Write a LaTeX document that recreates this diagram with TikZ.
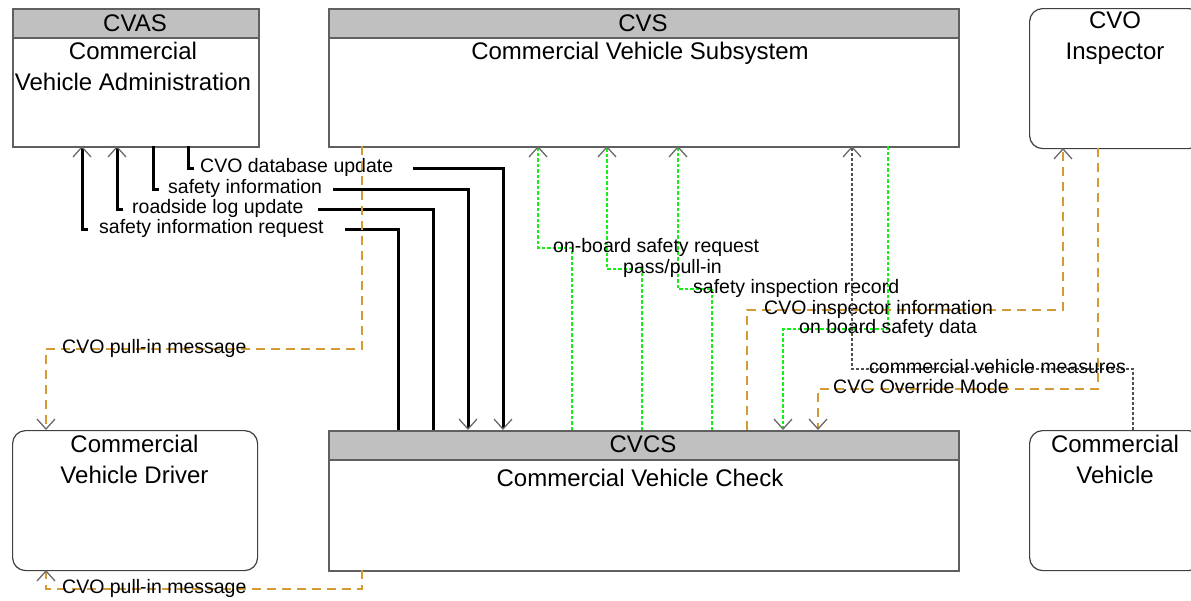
\documentclass[tikz,border=0pt]{standalone}
\usepackage{fontspec}
\setmainfont{Liberation Sans}
\usetikzlibrary{arrows.meta}
\definecolor{hdr}{HTML}{C0C0C0}
\definecolor{frame}{HTML}{606060}
\definecolor{flowgreen}{HTML}{14F014}
\definecolor{floworange}{HTML}{D39B36}
\definecolor{flowgray}{HTML}{505050}
\definecolor{tipgray}{HTML}{6A6A6A}
\begin{document}
\begin{tikzpicture}[x=1pt,y=-1pt,
  flowtip/.tip={Straight Barb[length=10pt,width=18pt,line width=1.3pt,color=tipgray]},
  sysbox/.style={draw=frame,line width=1.5pt,fill=white,inner sep=0,anchor=north west},
  hdrbox/.style={draw=frame,line width=1.5pt,fill=hdr,inner sep=0,anchor=north west,minimum height=29pt},
  termbox/.style={draw=black!75,line width=1.2pt,rounded corners=13pt,fill=white,inner sep=0,anchor=north west},
  ttl/.style={font=\fontsize{24}{31}\selectfont,align=center,inner sep=0},
  lab/.style={font=\fontsize{19.5}{22}\selectfont,inner sep=0,anchor=base west},
  blk/.style={line width=3pt},
  grn/.style={draw=flowgreen,line width=1.3pt,dash pattern=on 3.5pt off 2pt},
  org/.style={draw=floworange,line width=1.6pt,dash pattern=on 9pt off 6pt},
  gry/.style={draw=flowgray,line width=1.2pt,dash pattern=on 3pt off 2pt},
]
\useasboundingbox (0,0) rectangle (1191,600);
\clip (0,0) rectangle (1191,600);

% ---------- boxes ----------
\node[sysbox,minimum width=246pt,minimum height=138pt] (cvas) at (12,8) {};
\node[hdrbox,minimum width=246pt] (cvash) at (12,8) {};
\node[ttl,anchor=base] (cvast) at (135,31) {CVAS};
\node[ttl,anchor=north] (cvasb) at (133,42.3) {Commercial\\Vehicle Administration};

\node[sysbox,minimum width=630pt,minimum height=138pt] (cvs) at (328,8) {};
\node[hdrbox,minimum width=630pt] (cvsh) at (328,8) {};
\node[ttl,anchor=base] (cvst) at (643,31) {CVS};
\node[ttl,anchor=north] (cvsb) at (640,42.3) {Commercial Vehicle Subsystem};

\node[termbox,minimum width=172pt,minimum height=140pt] (insp) at (1029,8) {};
\node[ttl,anchor=north] (inspt) at (1115,11.8) {CVO\\Inspector};

\node[termbox,minimum width=245pt,minimum height=140pt] (cvd) at (12,430) {};
\node[ttl,anchor=north] (cvdt) at (134.5,434.8) {Commercial\\Vehicle Driver};

\node[sysbox,minimum width=630pt,minimum height=140pt] (cvcs) at (328,430) {};
\node[hdrbox,minimum width=630pt] (cvcsh) at (328,430) {};
\node[ttl,anchor=base] (cvcst) at (643,452) {CVCS};
\node[ttl,anchor=north] (cvcsb) at (640,469.3) {Commercial Vehicle Check};

\node[termbox,minimum width=172pt,minimum height=140pt] (cv) at (1029,430) {};
\node[ttl,anchor=north] (cvt) at (1115,434.8) {Commercial\\Vehicle};

% ---------- ports ----------
\coordinate (cvas-a1) at (82,146);
\coordinate (cvas-a2) at (117,146);
\coordinate (cvas-a3) at (153,146);
\coordinate (cvas-a4) at (188,146);
\coordinate (cvcs-b1) at (398,430);
\coordinate (cvcs-b2) at (433,430);
\coordinate (cvcs-b3) at (468,430);
\coordinate (cvcs-b4) at (503,430);
\coordinate (r1l) at (194,168); \coordinate (r1r) at (413,168);
\coordinate (r2l) at (159,189); \coordinate (r2r) at (333,189);
\coordinate (r3l) at (123,209); \coordinate (r3r) at (318,209);
\coordinate (r4l) at (88,229);  \coordinate (r4r) at (345,229);

% ---------- black flows ----------
\node[lab] (l1) at (200,172) {CVO database update};
\node[lab] (l2) at (168,193) {safety information};
\node[lab] (l3) at (132,213) {roadside log update};
\node[lab] (l4) at (99,233) {safety information request};
\draw[blk] (cvas-a4) |- (r1l);
\draw[blk,-flowtip] (r1r) -| (cvcs-b4);
\draw[blk] (cvas-a3) |- (r2l);
\draw[blk,-flowtip] (r2r) -| (cvcs-b3);
\draw[blk] (cvcs-b2) |- (r3r);
\draw[blk,-flowtip] (r3l) -| (cvas-a2);
\draw[blk] (cvcs-b1) |- (r4r);
\draw[blk,-flowtip] (r4l) -| (cvas-a1);

% ---------- green flows ----------
\coordinate (g1s) at (572,430); \coordinate (g1c) at (538,248); \coordinate (g1t) at (538,146);
\coordinate (g2s) at (642,430); \coordinate (g2c) at (607,269); \coordinate (g2t) at (607,146);
\coordinate (g3s) at (712,430); \coordinate (g3c) at (678,289); \coordinate (g3t) at (678,146);
\coordinate (g4s) at (888,146); \coordinate (g4c) at (783,329); \coordinate (g4t) at (783,430);
\draw[grn,-flowtip] (g1s) |- (g1c) -- (g1t);
\draw[grn,-flowtip] (g2s) |- (g2c) -- (g2t);
\draw[grn,-flowtip] (g3s) |- (g3c) -- (g3t);
\draw[grn,-flowtip] (g4s) |- (g4c) -- (g4t);
\node[lab] (lg1) at (553,252) {on-board safety request};
\node[lab] (lg2) at (623,273) {pass/pull-in};
\node[lab] (lg3) at (693,293) {safety inspection record};
\node[lab] (lg4) at (799,333) {on board safety data};

% ---------- orange flows ----------
\coordinate (o1s) at (747,430); \coordinate (o1c) at (1063,310); \coordinate (o1t) at (1063,148);
\coordinate (o2s) at (1098,148); \coordinate (o2c) at (818,389); \coordinate (o2t) at (818,430);
\coordinate (o3s) at (362,146); \coordinate (o3c) at (46,349); \coordinate (o3t) at (46,430);
\coordinate (o4s) at (362,570); \coordinate (o4c) at (46,589); \coordinate (o4t) at (46,570);
\draw[org,-flowtip] (o1s) |- (o1c) -- (o1t);
\draw[org,-flowtip] (o2s) |- (o2c) -- (o2t);
\draw[org,-flowtip] (o3s) |- (o3c) -- (o3t);
\draw[org,-flowtip] (o4s) |- (o4c) -- (o4t);
\node[lab] (lo1) at (764,314) {CVO inspector information};
\node[lab] (lo2) at (833,393) {CVC Override Mode};
\node[lab] (lo3) at (62,353) {CVO pull-in message};
\node[lab] (lo4) at (62,593) {CVO pull-in message};

% ---------- gray flow ----------
\coordinate (k1s) at (1133,430); \coordinate (k1c) at (852,369); \coordinate (k1t) at (852,146);
\draw[gry,-flowtip] (k1s) |- (k1c) -- (k1t);
\node[lab] (lk1) at (869,373) {commercial vehicle measures};
\end{tikzpicture}
\end{document}
